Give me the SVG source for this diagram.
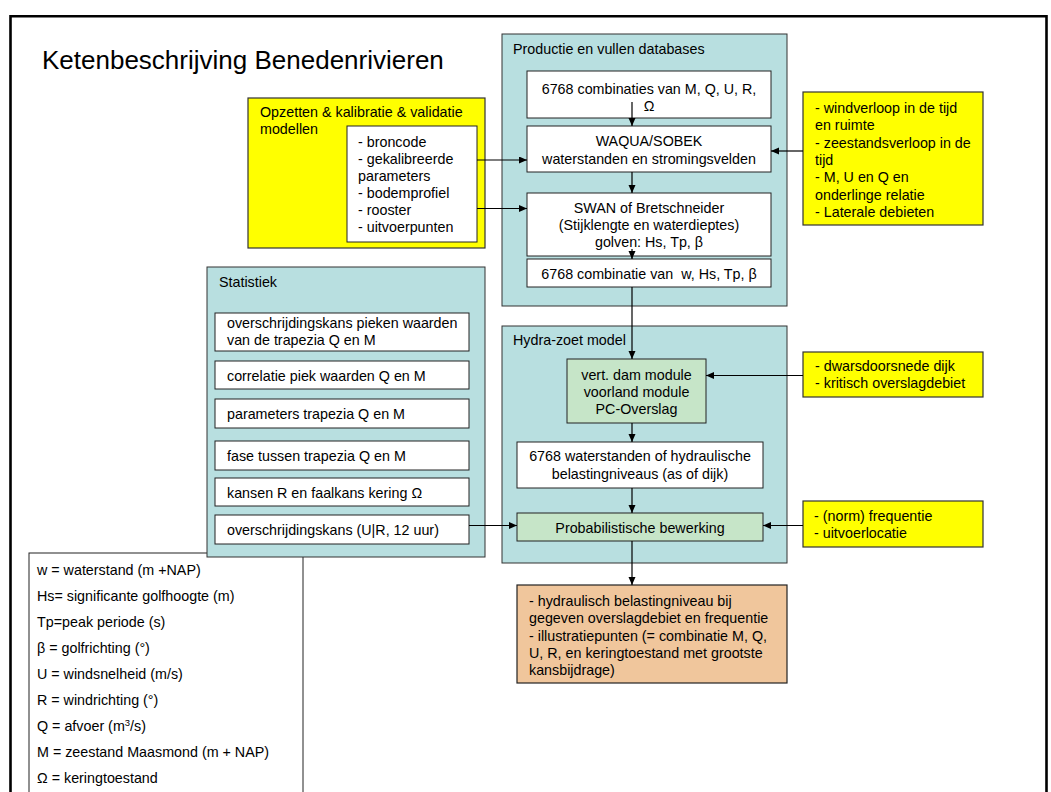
<svg xmlns="http://www.w3.org/2000/svg" width="1051" height="792" viewBox="0 0 1051 792">
<defs>
<style>
text{font-family:"Liberation Sans",Arial,sans-serif;font-size:14.3px;fill:#000}
.title{font-size:26px}
.c{text-anchor:middle}
.cont{fill:#b8dfe0;stroke:#333;stroke-width:1}
.box{fill:#fff;stroke:#222;stroke-width:1}
.grn{fill:#c6e5c8;stroke:#222;stroke-width:1}
.yel{fill:#ffff00;stroke:#333;stroke-width:1.2}
.org{fill:#f0c69c;stroke:#222;stroke-width:1.2}
.leg{fill:#fff;stroke:#222;stroke-width:1}
.con line{stroke:#000;stroke-width:1.2;marker-end:url(#ah)}
</style>
<marker id="ah" markerUnits="userSpaceOnUse" markerWidth="9" markerHeight="8" refX="8" refY="3.5" orient="auto">
<path d="M0,0 L8,3.5 L0,7 z" fill="#000"/>
</marker>
</defs>
<rect width="1051" height="792" fill="#fff"/>
<path d="M10.5,800 V16.2 H1046.5 V800" fill="none" stroke="#000" stroke-width="2.6"/>
<text class="title" x="42" y="69">Ketenbeschrijving Benedenrivieren</text>

<g id="legenda">
<rect class="leg" x="29" y="553" width="274" height="240"/>
<text x="37" y="575">w = waterstand (m +NAP)</text>
<text x="37" y="601">Hs= significante golfhoogte (m)</text>
<text x="37" y="627">Tp=peak periode (s)</text>
<text x="37" y="653">β = golfrichting (°)</text>
<text x="37" y="679">U = windsnelheid (m/s)</text>
<text x="37" y="705">R = windrichting (°)</text>
<text x="37" y="731">Q = afvoer (m<tspan font-size="9.5px" dy="-5">3</tspan><tspan dy="5">/s)</tspan></text>
<text x="37" y="757">M = zeestand Maasmond (m + NAP)</text>
<text x="37" y="783">Ω = keringtoestand</text>
</g>

<g id="productie">
<rect class="cont" x="502" y="34" width="285" height="272"/>
<text x="513" y="54">Productie en vullen databases</text>
</g>
<g id="combinaties">
<rect class="box" x="527" y="71" width="244" height="47"/>
<text class="c" x="649" y="93.5">6768 combinaties van M, Q, U, R,</text>
<text class="c" x="649" y="111">Ω</text>
</g>
<g id="waqua">
<rect class="box" x="527" y="126" width="244" height="46"/>
<text class="c" x="649" y="146">WAQUA/SOBEK</text>
<text class="c" x="649" y="163.5">waterstanden en stromingsvelden</text>
</g>
<g id="swan">
<rect class="box" x="527" y="193" width="244" height="63"/>
<text class="c" x="649" y="212.5">SWAN of Bretschneider</text>
<text class="c" x="649" y="229.8">(Stijklengte en waterdieptes)</text>
<text class="c" x="649" y="247">golven: Hs, Tp, β</text>
</g>
<g id="combinatie-w">
<rect class="box" x="527" y="259" width="244" height="28"/>
<text class="c" x="649" y="278.5">6768 combinatie van &#160;w, Hs, Tp, β</text>
</g>

<g id="hydra">
<rect class="cont" x="502" y="326" width="285" height="237"/>
<text x="513" y="345">Hydra-zoet model</text>
</g>
<g id="modules">
<rect class="grn" x="567" y="359" width="139" height="64"/>
<text class="c" x="636.5" y="380">vert. dam module</text>
<text class="c" x="636.5" y="397">voorland module</text>
<text class="c" x="636.5" y="414">PC-Overslag</text>
</g>
<g id="waterstanden">
<rect class="box" x="517" y="442" width="246" height="46"/>
<text class="c" x="640" y="461">6768 waterstanden of hydraulische</text>
<text class="c" x="640" y="478.5">belastingniveaus (as of dijk)</text>
</g>
<g id="probabilistisch">
<rect class="grn" x="517" y="513" width="246" height="28"/>
<text class="c" x="640" y="532.5">Probabilistische bewerking</text>
</g>

<g id="resultaat">
<rect class="org" x="517" y="585" width="270" height="98"/>
<text x="529" y="606">- hydraulisch belastingniveau bij</text>
<text x="529" y="623.3">gegeven overslagdebiet en frequentie</text>
<text x="529" y="640.5">- illustratiepunten (= combinatie M, Q,</text>
<text x="529" y="657.8">U, R, en keringtoestand met grootste</text>
<text x="529" y="675">kansbijdrage)</text>
</g>

<g id="opzetten">
<rect class="yel" x="248" y="98" width="237" height="150"/>
<text x="260" y="117">Opzetten &amp; kalibratie &amp; validatie</text>
<text x="260" y="134">modellen</text>
</g>
<g id="modelinput">
<rect class="box" x="347" y="126" width="130" height="116"/>
<text x="358" y="146.5">- broncode</text>
<text x="358" y="163.6">- gekalibreerde</text>
<text x="358" y="180.7">parameters</text>
<text x="358" y="197.8">- bodemprofiel</text>
<text x="358" y="214.9">- rooster</text>
<text x="358" y="232">- uitvoerpunten</text>
</g>

<g id="randvoorwaarden">
<rect class="yel" x="803" y="92" width="180" height="133"/>
<text x="815" y="113">- windverloop in de tijd</text>
<text x="815" y="130.3">en ruimte</text>
<text x="815" y="147.6">- zeestandsverloop in de</text>
<text x="815" y="165">tijd</text>
<text x="815" y="182.2">- M, U en Q en</text>
<text x="815" y="199.5">onderlinge relatie</text>
<text x="815" y="216.8">- Laterale debieten</text>
</g>
<g id="dijk">
<rect class="yel" x="803" y="352" width="180" height="45"/>
<text x="815" y="371">- dwarsdoorsnede dijk</text>
<text x="815" y="388">- kritisch overslagdebiet</text>
</g>
<g id="frequentie">
<rect class="yel" x="803" y="501" width="180" height="46"/>
<text x="814" y="521">- (norm) frequentie</text>
<text x="814" y="538">- uitvoerlocatie</text>
</g>

<g id="statistiek">
<rect class="cont" x="207" y="267" width="278" height="290"/>
<text x="219" y="287">Statistiek</text>
</g>
<g id="stat-pieken">
<rect class="box" x="215" y="313" width="254" height="38"/>
<text x="227" y="327.5">overschrijdingskans pieken waarden</text>
<text x="227" y="344.5">van de trapezia Q en M</text>
</g>
<g id="stat-correlatie">
<rect class="box" x="215" y="361" width="254" height="28"/>
<text x="227" y="380.5">correlatie piek waarden Q en M</text>
</g>
<g id="stat-parameters">
<rect class="box" x="215" y="399" width="254" height="29"/>
<text x="227" y="419">parameters trapezia Q en M</text>
</g>
<g id="stat-fase">
<rect class="box" x="215" y="441" width="254" height="29"/>
<text x="227" y="461">fase tussen trapezia Q en M</text>
</g>
<g id="stat-kansen">
<rect class="box" x="215" y="478" width="254" height="28"/>
<text x="227" y="497.5">kansen R en faalkans kering Ω</text>
</g>
<g id="stat-wind">
<rect class="box" x="215" y="515" width="254" height="29"/>
<text x="227" y="534.5">overschrijdingskans (U|R, 12 uur)</text>
</g>

<g id="connectors" class="con">
<line x1="632" y1="102" x2="632" y2="126"/>
<line x1="632" y1="172" x2="632" y2="193"/>
<line x1="632" y1="249" x2="632" y2="259"/>
<line x1="632" y1="287" x2="632" y2="359"/>
<line x1="632" y1="423" x2="632" y2="442"/>
<line x1="632" y1="488" x2="632" y2="513"/>
<line x1="632" y1="541" x2="632" y2="585"/>
<line x1="477" y1="160" x2="527" y2="160"/>
<line x1="477" y1="208.5" x2="527" y2="208.5"/>
<line x1="803" y1="151" x2="771" y2="151"/>
<line x1="803" y1="375.5" x2="706" y2="375.5"/>
<line x1="469" y1="525.5" x2="517" y2="525.5"/>
<line x1="803" y1="525.5" x2="763" y2="525.5"/>
</g>
</svg>
